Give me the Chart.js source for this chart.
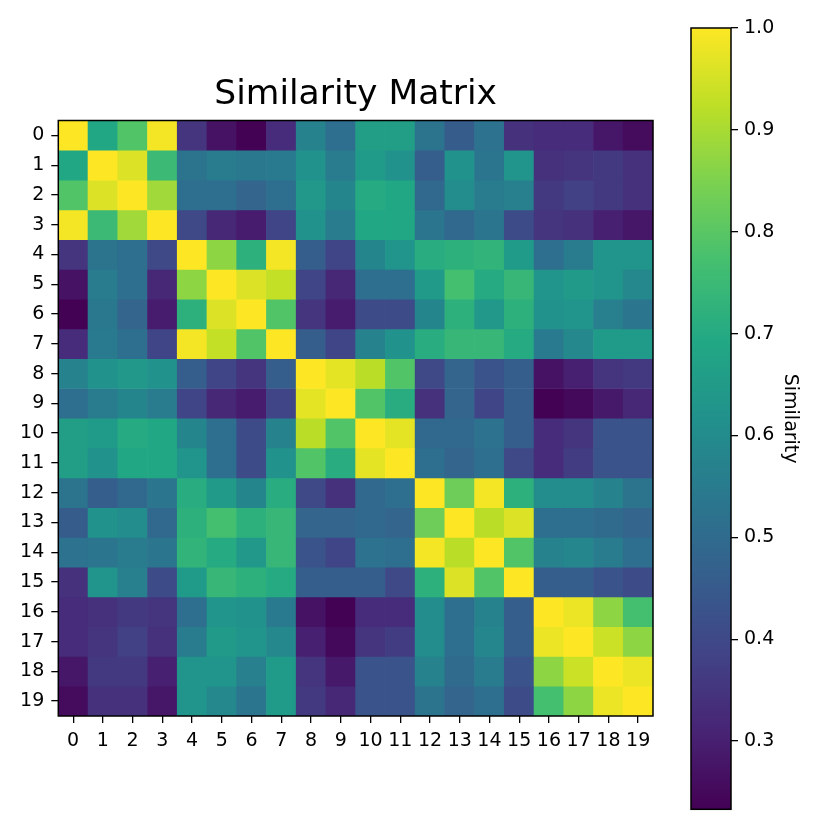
<!DOCTYPE html>
<html>
<head>
<meta charset="utf-8">
<script src="https://cdn.jsdelivr.net/npm/chart.js@4.4.1/dist/chart.umd.min.js"></script>
<style>
  html, body { margin: 0; padding: 0; background: #fff; }
  #wrap { position: relative; width: 830px; height: 830px; }
  #heat-box { position: absolute; left: 0; top: 0; width: 680px; height: 760px; }
  #bar-box { position: absolute; left: 680px; top: 0; width: 150px; height: 830px; }
</style>
</head>
<body>
<div id="wrap">
  <div id="heat-box"><canvas id="heat-canvas"></canvas></div>
  <div id="bar-box"><canvas id="bar-canvas"></canvas></div>
</div>
<script>
const rowLabels = ["0","1","2","3","4","5","6","7","8","9","10","11","12","13","14","15","16","17","18","19"];
const colLabels = ["0","1","2","3","4","5","6","7","8","9","10","11","12","13","14","15","16","17","18","19"];

// similarity values, row by row
const similarity = [
  [1.00,0.69,0.79,0.99,0.35,0.27,0.235,0.33,0.57,0.51,0.66,0.66,0.525,0.455,0.52,0.34,0.33,0.33,0.28,0.255],
  [0.69,1.00,0.96,0.75,0.525,0.55,0.54,0.545,0.62,0.55,0.65,0.62,0.46,0.62,0.53,0.63,0.34,0.35,0.36,0.34],
  [0.79,0.96,1.00,0.89,0.51,0.51,0.48,0.51,0.64,0.58,0.70,0.69,0.49,0.60,0.55,0.56,0.36,0.38,0.36,0.34],
  [0.99,0.75,0.89,1.00,0.40,0.32,0.29,0.39,0.62,0.55,0.69,0.69,0.53,0.49,0.53,0.41,0.35,0.34,0.30,0.28],
  [0.35,0.525,0.51,0.40,1.00,0.87,0.72,0.99,0.46,0.39,0.58,0.63,0.71,0.72,0.73,0.65,0.51,0.55,0.63,0.625],
  [0.27,0.55,0.51,0.32,0.87,1.00,0.96,0.93,0.39,0.32,0.51,0.51,0.645,0.77,0.70,0.74,0.63,0.645,0.63,0.59],
  [0.235,0.54,0.48,0.29,0.72,0.96,1.00,0.79,0.35,0.29,0.41,0.41,0.58,0.72,0.64,0.72,0.62,0.63,0.56,0.53],
  [0.33,0.545,0.51,0.39,0.99,0.93,0.79,1.00,0.46,0.39,0.57,0.62,0.71,0.74,0.74,0.70,0.545,0.59,0.65,0.65],
  [0.57,0.62,0.64,0.62,0.46,0.39,0.35,0.46,1.00,0.97,0.92,0.79,0.40,0.48,0.43,0.46,0.27,0.30,0.35,0.36],
  [0.51,0.55,0.58,0.55,0.39,0.32,0.29,0.39,0.97,1.00,0.79,0.71,0.34,0.48,0.39,0.46,0.235,0.25,0.285,0.32],
  [0.66,0.65,0.70,0.69,0.58,0.51,0.41,0.57,0.92,0.79,1.00,0.97,0.49,0.49,0.52,0.46,0.33,0.35,0.43,0.43],
  [0.66,0.62,0.69,0.69,0.63,0.51,0.41,0.62,0.79,0.71,0.97,1.00,0.51,0.48,0.51,0.40,0.33,0.37,0.43,0.43],
  [0.525,0.46,0.49,0.53,0.71,0.645,0.58,0.71,0.40,0.34,0.49,0.51,1.00,0.83,0.99,0.72,0.60,0.60,0.57,0.525],
  [0.455,0.62,0.60,0.49,0.72,0.77,0.72,0.74,0.48,0.48,0.49,0.48,0.83,1.00,0.92,0.96,0.51,0.51,0.50,0.48],
  [0.52,0.53,0.55,0.53,0.73,0.70,0.64,0.74,0.43,0.39,0.52,0.51,0.99,0.92,1.00,0.79,0.57,0.585,0.55,0.51],
  [0.34,0.63,0.56,0.41,0.65,0.74,0.72,0.70,0.46,0.46,0.46,0.40,0.72,0.96,0.79,1.00,0.46,0.46,0.43,0.41],
  [0.33,0.34,0.36,0.35,0.51,0.63,0.62,0.545,0.27,0.235,0.33,0.33,0.60,0.51,0.57,0.46,1.00,0.98,0.87,0.77],
  [0.33,0.35,0.38,0.34,0.55,0.645,0.63,0.59,0.30,0.25,0.35,0.37,0.60,0.51,0.585,0.46,0.98,1.00,0.94,0.87],
  [0.28,0.36,0.36,0.30,0.63,0.63,0.56,0.65,0.35,0.285,0.43,0.43,0.57,0.50,0.55,0.43,0.87,0.94,1.00,0.98],
  [0.255,0.34,0.34,0.28,0.625,0.59,0.53,0.65,0.36,0.32,0.43,0.43,0.525,0.48,0.51,0.41,0.77,0.87,0.98,1.00]
];

const colorbarTicks = [0.3, 0.4, 0.5, 0.6, 0.7, 0.8, 0.9, 1.0];
const vmin = 0.233;
const vmax = 1.0;

// viridis colour stops
const viridis = ["#440154","#482475","#414487","#355f8d","#2a788e","#21918c","#22a884","#44bf70","#7ad151","#bddf26","#fde725"];

function hexToRgb(h) {
  return [parseInt(h.slice(1, 3), 16), parseInt(h.slice(3, 5), 16), parseInt(h.slice(5, 7), 16)];
}
const viridisRgb = viridis.map(hexToRgb);

function colorFor(v) {
  let t = (v - vmin) / (vmax - vmin);
  t = Math.max(0, Math.min(1, t));
  const pos = t * (viridisRgb.length - 1);
  const i = Math.min(Math.floor(pos), viridisRgb.length - 2);
  const f = pos - i;
  const a = viridisRgb[i], b = viridisRgb[i + 1];
  const c = a.map((x, k) => Math.round(x + (b[k] - x) * f));
  return `rgb(${c[0]}, ${c[1]}, ${c[2]})`;
}

const font = "'DejaVu Sans', sans-serif";
Chart.defaults.font.family = font;
Chart.defaults.color = "#000";

// black box round the plot area, like the matplotlib spines
const framePlugin = {
  id: "frame",
  afterDatasetsDraw(chart) {
    const { ctx, chartArea } = chart;
    ctx.save();
    ctx.strokeStyle = "#000";
    ctx.lineWidth = 1.5;
    ctx.strokeRect(chartArea.left, chartArea.top, chartArea.right - chartArea.left, chartArea.bottom - chartArea.top);
    ctx.restore();
  }
};

const heatDatasets = similarity.map((row, i) => ({
  label: rowLabels[i],
  data: row.map(() => [i, i + 1]),
  backgroundColor: row.map(colorFor),
  borderWidth: 0,
  barPercentage: 1,
  categoryPercentage: 1,
  grouped: false
}));

new Chart(document.getElementById("heat-canvas"), {
  type: "bar",
  data: { labels: colLabels, datasets: heatDatasets },
  options: {
    responsive: true,
    maintainAspectRatio: false,
    animation: false,
    layout: { padding: { left: 0, right: 27, top: 0, bottom: 0 } },
    plugins: {
      legend: { display: false },
      tooltip: { enabled: false },
      title: {
        display: true,
        fullSize: false,
        text: "Similarity Matrix",
        color: "#000",
        font: { family: font, size: 34.5, weight: "normal" },
        padding: { top: 74.8, bottom: 4.3 }
      }
    },
    scales: {
      x: {
        type: "category",
        grid: { display: true, drawOnChartArea: false, drawTicks: true, tickLength: 7, color: "#000", lineWidth: 1.3, offset: false },
        border: { display: false },
        ticks: { font: { size: 19 }, color: "#000", padding: 7, autoSkip: false, maxRotation: 0 },
        afterFit(scale) { scale.height = 44; }
      },
      y: {
        type: "linear",
        min: 0,
        max: 20,
        reverse: true,
        grid: { display: true, drawOnChartArea: false, drawTicks: true, tickLength: 7, color: "#000", lineWidth: 1.3 },
        border: { display: false },
        afterBuildTicks(scale) {
          scale.ticks = rowLabels.map((l, i) => ({ value: i + 0.5 }));
        },
        ticks: {
          font: { size: 19 },
          color: "#000",
          padding: 7,
          autoSkip: false,
          callback: (value, index) => rowLabels[index]
        },
        afterFit(scale) { scale.width = 58.3; }
      }
    }
  },
  plugins: [framePlugin]
});

function barGradient(context) {
  const chart = context.chart;
  const area = chart.chartArea;
  if (!area) return viridis[5];
  const g = chart.ctx.createLinearGradient(0, area.bottom, 0, area.top);
  viridis.forEach((c, i) => g.addColorStop(i / (viridis.length - 1), c));
  return g;
}

new Chart(document.getElementById("bar-canvas"), {
  type: "bar",
  data: {
    labels: ["Similarity"],
    datasets: [{
      data: [[vmin, vmax]],
      backgroundColor: barGradient,
      borderWidth: 0,
      barPercentage: 1,
      categoryPercentage: 1
    }]
  },
  options: {
    responsive: true,
    maintainAspectRatio: false,
    animation: false,
    layout: { padding: { left: 11, right: 0, top: 28, bottom: 20.7 } },
    plugins: { legend: { display: false }, tooltip: { enabled: false } },
    scales: {
      x: { display: false },
      y: {
        position: "right",
        min: vmin,
        max: vmax,
        grid: { display: true, drawOnChartArea: false, drawTicks: true, tickLength: 7, color: "#000", lineWidth: 1.3 },
        border: { display: false },
        afterBuildTicks(scale) {
          scale.ticks = colorbarTicks.map((v) => ({ value: v }));
        },
        ticks: {
          font: { size: 19 },
          color: "#000",
          padding: 6,
          callback: (value) => Number(value).toFixed(1)
        },
        title: {
          display: true,
          text: "Similarity",
          color: "#000",
          font: { size: 19 },
          padding: { top: 29, bottom: 0 }
        },
        afterFit(scale) { scale.width = 99; }
      }
    }
  },
  plugins: [framePlugin]
});
</script>
</body>
</html>
